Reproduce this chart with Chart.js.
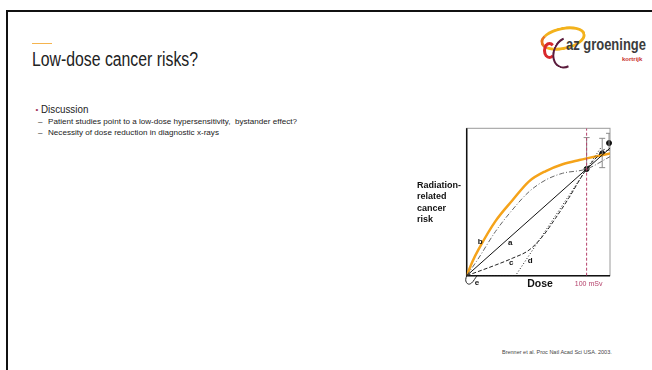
<!DOCTYPE html>
<html>
<head>
<meta charset="utf-8">
<script src="https://cdn.jsdelivr.net/npm/chart.js@4/dist/chart.umd.min.js"></script>
<style>
  html, body { margin: 0; padding: 0; background: #fff; }
  body { width: 652px; height: 370px; position: relative; overflow: hidden; font-family: "Liberation Sans", Arial, sans-serif; }
  .frame { position: absolute; left: 6px; top: 10px; width: 660px; height: 380px; border-left: 2.5px solid #111; border-top: 2.5px solid #111; }
  .t { position: absolute; white-space: nowrap; transform-origin: 0 0; line-height: 1; }
  #chartBox { position: absolute; left: 400px; top: 110px; width: 240px; height: 190px; }
  .ring { position: absolute; border-radius: 50%; box-sizing: border-box; }
</style>
</head>
<body>
<div class="frame"></div>

<div style="position:absolute;left:32px;top:42.5px;width:20px;height:1.5px;background:#f5b44e"></div>
<div class="t" style="left:32px;top:49px;font-size:20px;color:#222;transform:scaleX(0.79)">Low-dose cancer risks?</div>

<div class="t" style="left:35.5px;top:105.5px;font-size:8px;color:#a0305a">•</div>
<div class="t" style="left:40.5px;top:103.6px;font-size:11px;color:#222;transform:scaleX(0.89)">Discussion</div>
<div class="t" style="left:38px;top:118px;font-size:8px;color:#222">–</div>
<div class="t" style="left:48px;top:118px;font-size:8.1px;color:#222">Patient studies point to a low-dose hypersensitivity,&nbsp; bystander effect?</div>
<div class="t" style="left:38px;top:129px;font-size:8px;color:#222">–</div>
<div class="t" style="left:48px;top:129px;font-size:8.1px;color:#222">Necessity of dose reduction in diagnostic x-rays</div>

<!-- logo -->
<div class="ring" style="left:540px;top:27px;width:46px;height:23px;border:3px solid #f3b21c;border-left-color:#e8761c;transform:rotate(-12deg)"></div>
<div class="ring" style="left:543px;top:42px;width:13px;height:17px;border:3px solid #d8282c;border-right-color:transparent"></div>
<div class="ring" style="left:553px;top:36px;width:26px;height:33px;border:2.5px solid #5a1b3c;border-right-color:transparent;border-top-color:transparent;transform:rotate(25deg)"></div>
<div class="t" style="left:566px;top:37px;font-size:16px;font-weight:bold;color:#3c3c3c;transform:scaleX(0.81)">az groeninge</div>
<div class="t" style="left:622px;top:56px;font-size:6px;font-weight:bold;color:#c8302c">kortrijk</div>

<div class="t" style="left:502px;top:349.5px;font-size:5.5px;color:#444">Brenner et al. Proc Natl Acad Sci USA. 2003.</div>

<div id="chartBox"><canvas id="risk" width="240" height="190"></canvas></div>

<script>
// dose in mSv, risk in arbitrary units (0..1)
const orangeDose = [0, 5, 10, 24, 38, 52, 66, 80, 94, 100, 120];
const orangeRisk = [0, 0.1, 0.18, 0.37, 0.51, 0.64, 0.71, 0.756, 0.785, 0.796, 0.83];

const bDose = [0, 10, 24, 38, 52, 66, 80, 100, 120];
const bRisk = [0, 0.12, 0.30, 0.446, 0.57, 0.65, 0.695, 0.724, 0.81];

const aDose = [0, 120];
const aRisk = [0, 0.869];

const cDose = [0, 24, 38, 52, 63, 74, 85, 100, 115];
const cRisk = [0, 0.072, 0.118, 0.174, 0.264, 0.389, 0.525, 0.724, 0.86];

const dDose = [0, 40.7, 100, 112];
const dRisk = [0, 0, 0.724, 0.87];

const eDose = [0, -0.8, -0.3, 1.5, 4, 6.5, 8.5];
const eRisk = [0, -0.025, -0.045, -0.057, -0.05, -0.025, 0];

const obsDose = [100, 113, 118.7];
const obsRisk = [0.724, 0.83, 0.9];
const obsLow = [0.724, 0.733, 0.85];
const obsHigh = [0.937, 0.932, 0.966];

const curveNames = ['a', 'b', 'c', 'd', 'e'];
const curveLabelDose = [36.3, 11.3, 37.2, 53, 8.6];
const curveLabelRisk = [0.225, 0.227, 0.085, 0.1, -0.05];

const zip = (xs, ys) => xs.map((x, i) => ({ x: x, y: ys[i] }));

const errorBars = obsDose.map((d, i) => ({
    data: [{ x: d, y: obsLow[i] }, { x: d, y: obsHigh[i] }],
    showLine: true,
    borderColor: '#8a8a8a',
    borderWidth: 1,
    pointStyle: 'line',
    pointRadius: 3,
    pointBorderColor: '#8a8a8a',
    pointBorderWidth: 1
}));

const framePlugin = {
    id: 'frame',
    beforeDatasetsDraw(chart) {
        const { ctx, chartArea: a } = chart;
        ctx.save();
        ctx.strokeStyle = '#9a9a9a';
        ctx.lineWidth = 1;
        ctx.strokeRect(a.left, a.top, a.right - a.left, a.bottom - a.top);
        ctx.strokeStyle = '#111';
        ctx.lineWidth = 1.5;
        ctx.beginPath();
        ctx.moveTo(a.left, a.top);
        ctx.lineTo(a.left, a.bottom);
        ctx.lineTo(a.right, a.bottom);
        ctx.stroke();
        ctx.restore();
    },
    afterDraw(chart) {
        const { ctx, chartArea: a, scales } = chart;
        ctx.save();
        ctx.fillStyle = '#111';
        ctx.textBaseline = 'middle';
        ctx.textAlign = 'center';
        ctx.font = 'bold 8px "Liberation Sans", Arial';
        curveNames.forEach((n, i) => {
            ctx.fillText(n, scales.x.getPixelForValue(curveLabelDose[i]), scales.y.getPixelForValue(curveLabelRisk[i]));
        });
        ctx.font = 'bold 10.5px "Liberation Sans", Arial';
        ctx.fillText('Dose', 140, a.bottom + 8);
        ctx.fillStyle = '#b5416b';
        ctx.font = '7px "Liberation Sans", Arial';
        ctx.fillText('100 mSv', scales.x.getPixelForValue(100) + 2, a.bottom + 8.5);
        ctx.fillStyle = '#111';
        ctx.textAlign = 'left';
        ctx.font = 'bold 9px "Liberation Sans", Arial';
        ['Radiation-', 'related', 'cancer', 'risk'].forEach((s, i) => ctx.fillText(s, 17, 75.5 + i * 11.5));
        ctx.restore();
    }
};

new Chart(document.getElementById('risk'), {
    type: 'scatter',
    data: {
        datasets: [
            { data: [{ x: 100, y: 0 }, { x: 100, y: 1 }], showLine: true, borderColor: '#b5416b', borderWidth: 1, borderDash: [3, 2], pointRadius: 0 },
            { data: zip(cDose, cRisk), showLine: true, borderColor: '#222', borderWidth: 1, borderDash: [4, 2], pointRadius: 0, cubicInterpolationMode: 'monotone' },
            { data: zip(dDose, dRisk), showLine: true, borderColor: '#222', borderWidth: 1, borderDash: [1, 2], pointRadius: 0 },
            { data: zip(aDose, aRisk), showLine: true, borderColor: '#111', borderWidth: 1, pointRadius: 0 },
            { data: zip(bDose, bRisk), showLine: true, borderColor: '#666', borderWidth: 1, borderDash: [5, 2, 1, 2], pointRadius: 0, cubicInterpolationMode: 'monotone' },
            { data: zip(eDose, eRisk), showLine: true, borderColor: '#222', borderWidth: 1, pointRadius: 0, tension: 0.4, clip: false },
            { data: zip(orangeDose, orangeRisk), showLine: true, borderColor: '#f5a31a', borderWidth: 2.5, pointRadius: 0, cubicInterpolationMode: 'monotone' },
            ...errorBars,
            { data: zip(obsDose, obsRisk), pointRadius: 2.5, pointBackgroundColor: '#111', pointBorderColor: '#111', clip: false }
        ]
    },
    options: {
        responsive: false,
        animation: false,
        layout: { padding: { left: 66.7, top: 18.3, right: 30, bottom: 24.3 } },
        scales: {
            x: { type: 'linear', display: false, min: 0, max: 119.5 },
            y: { type: 'linear', display: false, min: 0, max: 1 }
        },
        plugins: { legend: { display: false }, tooltip: { enabled: false } }
    },
    plugins: [framePlugin]
});
</script>
</body>
</html>
